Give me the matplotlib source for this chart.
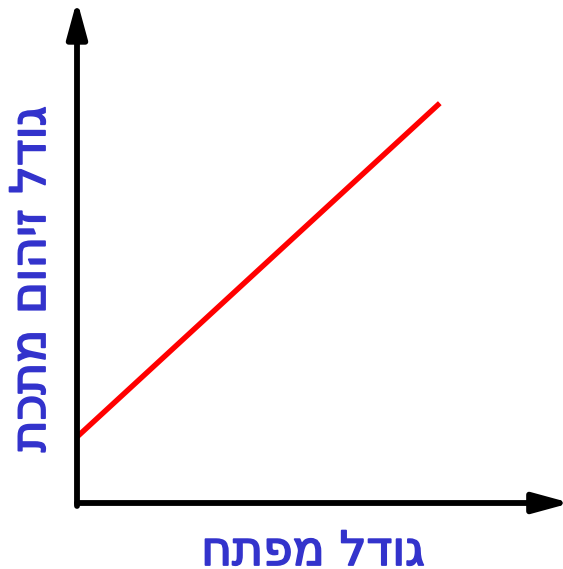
import matplotlib
matplotlib.use('Agg')
import matplotlib.pyplot as plt
import matplotlib.patheffects as pe

# data (axes fraction units)
line_x = [0.0, 0.748]
line_y = [0.134, 0.811]
xlabel = 'גודל מפתח'
ylabel = 'גודל זיהום מתכת'

W, H = 563, 569
fig = plt.figure(figsize=(W / 100, H / 100), dpi=100)
ax = fig.add_axes([77 / W, (H - 503) / H, (562 - 77) / W, (503 - 10) / H])
ax.set_xlim(0, 1)
ax.set_ylim(0, 1)
ax.axis('off')

ax.plot(line_x, line_y, color='#ff0000', lw=3.9, solid_capstyle='butt', clip_on=False)

arrow = dict(arrowstyle='-|>,head_length=1.1,head_width=0.3', lw=4.2, color='black',
             mutation_scale=20, shrinkA=0, shrinkB=0)
ax.annotate('', xy=(1.018, 0), xytext=(0, 0), xycoords='axes fraction', arrowprops=arrow)
ax.annotate('', xy=(0, 1.02), xytext=(0, -0.006), xycoords='axes fraction', arrowprops=arrow)

blue = '#3333cc'
thick = [pe.withStroke(linewidth=1.3, foreground=blue)]
# matplotlib has no bidi support, so reverse the Hebrew strings for display
fig.text(313 / W, 1 - 565 / H, xlabel[::-1], color=blue, fontsize=34,
         family='DejaVu Sans', ha='center', va='baseline', path_effects=thick)
fig.text(31 / W, 1 - 279 / H, ylabel[::-1], color=blue, fontsize=35,
         family='DejaVu Sans', ha='center', va='center', rotation=90, path_effects=thick)

fig.savefig('out.png', dpi=100)
